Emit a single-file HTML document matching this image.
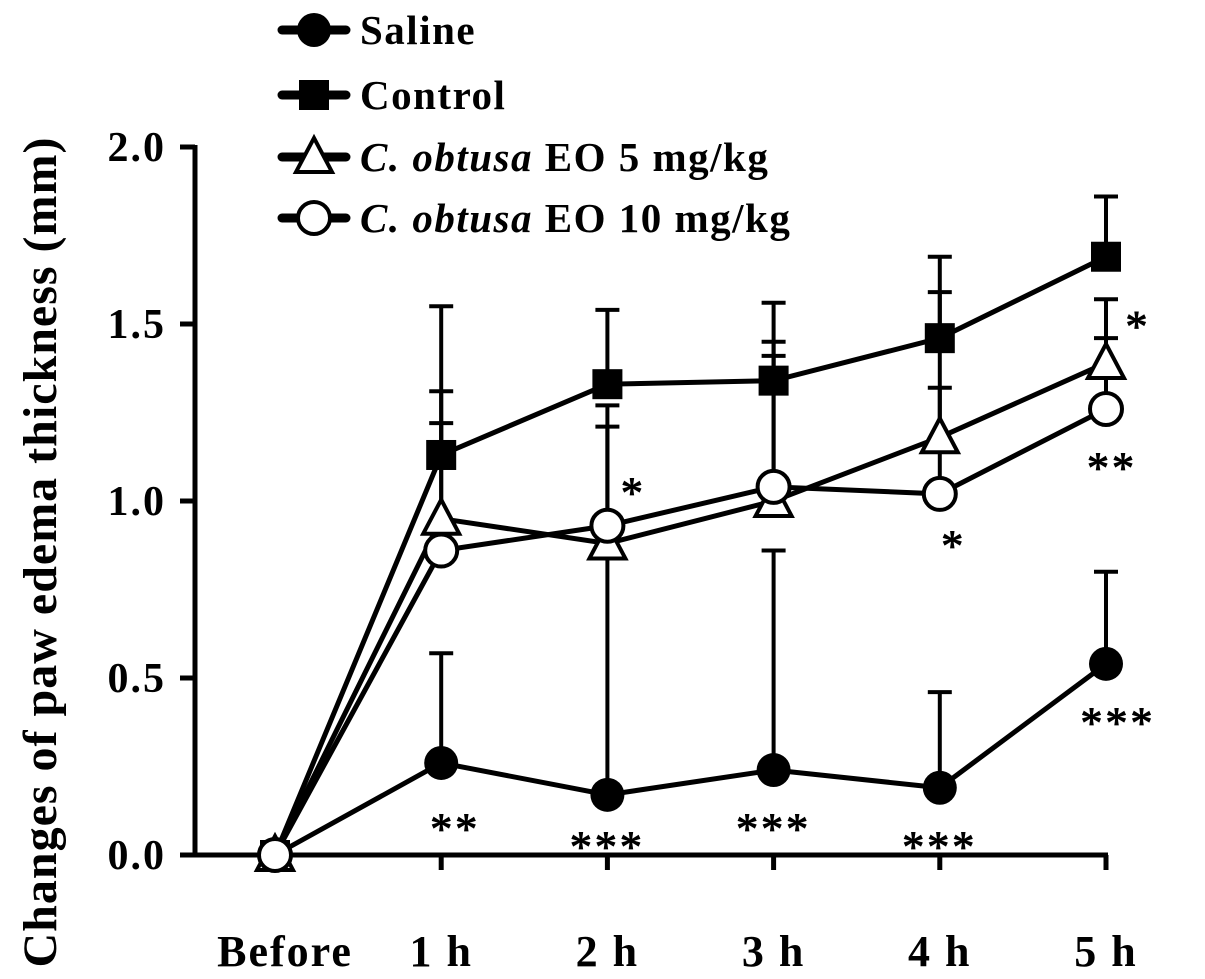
<!DOCTYPE html>
<html><head><meta charset="utf-8">
<style>
html,body{margin:0;padding:0;background:#fff;}
svg{display:block;font-family:"Liberation Serif",serif;font-weight:bold;}
</style></head>
<body>
<svg id="chart" width="1205" height="979" viewBox="0 0 1205 979"></svg>
<script>
const categories = ["Before","1 h","2 h","3 h","4 h","5 h"];
const yTicks = [0.0,0.5,1.0,1.5,2.0];
const salineVals = [0,0.26,0.17,0.24,0.19,0.54];
const salineErr = [0,0.31,0.67,0.62,0.27,0.26];
const controlVals = [0,1.13,1.33,1.34,1.46,1.69];
const controlErr = [0,0.42,0.21,0.22,0.23,0.17];
const eo5Vals = [0,0.95,0.88,1.00,1.18,1.39];
const eo5Err = [0,0.36,0.33,0.45,0.41,0.18];
const eo10Vals = [0,0.86,0.93,1.04,1.02,1.26];
const eo10Err = [0,0.36,0.34,0.37,0.3,0.2];
const sigLabels = ["**","***","***","***","***","**","*","*","*"];
const sigCat = [1,2,3,4,5,5,5,4,2];
const sigVal = [0.10,0.05,0.10,0.05,0.40,1.12,1.52,0.90,1.05];
const sigDx = [14,0,0,0,12,6,32,14,26];

const NS="http://www.w3.org/2000/svg";
const svg=document.getElementById('chart');
const x0=275, dx=166.2, yBase=855, yScale=354;
const X=i=>x0+i*dx;
const Y=v=>yBase-v*yScale;
function el(tag,attrs,parent){const e=document.createElementNS(NS,tag);for(const k in attrs)e.setAttribute(k,attrs[k]);(parent||svg).appendChild(e);return e;}

const ax=el('g',{stroke:'#000','stroke-width':5,fill:'none'});


el('line',{x1:195,y1:Y(2.0)-2,x2:195,y2:yBase+2},ax);
el('line',{x1:193,y1:yBase,x2:1108,y2:yBase},ax);
yTicks.forEach(t=>{
  el('line',{x1:180,y1:Y(t),x2:195,y2:Y(t)},ax);
  const tx=el('text',{x:166,y:Y(t)+14,'text-anchor':'end','font-size':42,'letter-spacing':2,fill:'#000'});
  
  
  tx.textContent=t.toFixed(1);
});
categories.forEach((c,i)=>{
  el('line',{x1:X(i),y1:yBase,x2:X(i),y2:yBase+15},ax);
  const tx=el('text',{x:X(i)-(i===0?-10:0),y:966,'text-anchor':'middle','font-size':44,'letter-spacing':2,fill:'#000'});
  
  
  tx.textContent=c;
});
const yt=el('text',{x:0,y:0,'text-anchor':'middle','font-size':48,'letter-spacing':1,fill:'#000',transform:'translate(56,552) rotate(-90)'});


yt.textContent='Changes of paw edema thickness (mm)';

function marker(type,cx,cy,g){
  if(type==='circle')return el('circle',{cx,cy,r:17,fill:'#000'},g);
  if(type==='square')return el('rect',{x:cx-15,y:cy-15,width:30,height:30,fill:'#000'},g);
  if(type==='tri')return el('polygon',{points:`${cx},${cy-19} ${cx-18},${cy+15} ${cx+18},${cy+15}`,fill:'#fff',stroke:'#000','stroke-width':4},g);
  if(type==='open')return el('circle',{cx,cy,r:16,fill:'#fff',stroke:'#000','stroke-width':4},g);
}
const series=[
 {name:'saline',vals:salineVals,err:salineErr,m:'circle'},
 {name:'control',vals:controlVals,err:controlErr,m:'square'},
 {name:'eo-5',vals:eo5Vals,err:eo5Err,m:'tri'},
 {name:'eo-10',vals:eo10Vals,err:eo10Err,m:'open'}
];
series.forEach(s=>{
  const g=el('g',{stroke:'#000','stroke-width':4});
  
  
  s.vals.forEach((v,i)=>{ if(s.err[i]>0){
    el('line',{x1:X(i),y1:Y(v),x2:X(i),y2:Y(v+s.err[i])},g);
    el('line',{x1:X(i)-12,y1:Y(v+s.err[i]),x2:X(i)+12,y2:Y(v+s.err[i])},g);
  }});
});
series.forEach(s=>{
  const g=el('g',{});
  
  
  el('polyline',{points:s.vals.map((v,i)=>X(i)+','+Y(v)).join(' '),fill:'none',stroke:'#000','stroke-width':5},g);
  s.vals.forEach((v,i)=>{const m=marker(s.m,X(i),Y(v),g);
    
    });
});
sigLabels.forEach((l,k)=>{
  const t=el('text',{x:X(sigCat[k])+sigDx[k],y:Y(sigVal[k])+24,'text-anchor':'middle','font-size':44,'font-weight':'normal','letter-spacing':3,fill:'#000',stroke:'#000','stroke-width':1});
  
  
  t.textContent=l;
});
const leg=[['circle','Saline',null],['square','Control',null],['tri','EO 5 mg/kg','C. obtusa'],['open','EO 10 mg/kg','C. obtusa']];
const legY=[30,95,157,218];
leg.forEach((e,k)=>{
  const g=el('g',{});
  
  
  el('line',{x1:282,y1:legY[k],x2:346,y2:legY[k],stroke:'#000','stroke-width':9,'stroke-linecap':'round'},g);
  marker(e[0],314,legY[k],g);
  const t=el('text',{x:360,y:legY[k]+14,'font-size':41,'letter-spacing':1.5,fill:'#000'},g);
  if(e[2]){const it=el('tspan',{'font-style':'italic'},t);it.textContent=e[2]+' ';
    const r=el('tspan',{},t);r.textContent=e[1];}
  else t.textContent=e[1];
});
</script>
</body></html>
